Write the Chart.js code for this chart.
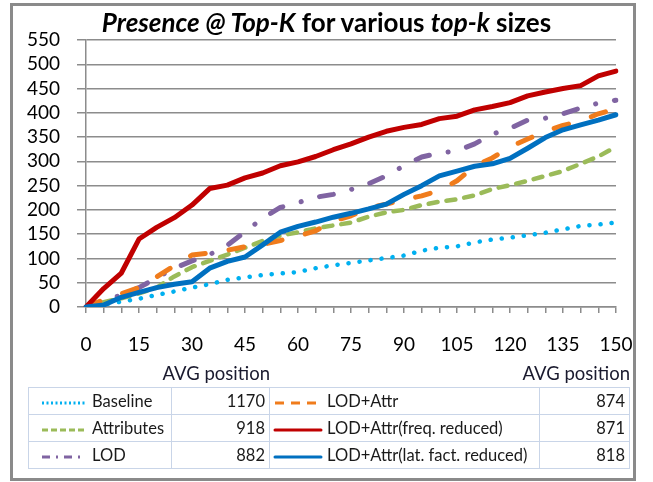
<!DOCTYPE html>
<html>
<head>
<meta charset="utf-8">
<script src="https://cdn.jsdelivr.net/npm/chart.js@4.4.1/dist/chart.umd.min.js"></script>
<style>
  html, body { margin: 0; padding: 0; background: #fff; }
  body { width: 653px; height: 482px; position: relative; overflow: hidden; font-family: Lato, "Noto Sans", sans-serif; color: #1a1a1a; }
  #frame { position: absolute; left: 10px; top: 3px; width: 626px; height: 478px; box-sizing: border-box; border: 3px solid #8a8a8a; }
  #chart { position: absolute; left: 0; top: 0; }
  #title { position: absolute; left: 0; width: 653px; top: 7px; text-align: center; font-weight: bold; font-size: 26px; line-height: 30px; color: #000; }
  .avg { position: absolute; top: 361px; font-size: 18.5px; line-height: 24px; color: #1a1a2e; text-align: right; }
  #legendTable { position: absolute; left: 28px; top: 387px; width: 601px; table-layout: fixed; border-collapse: collapse; font-size: 16.5px; }
  #legendTable td { border: 1.5px solid #c9d5e8; height: 26px; padding: 0; white-space: nowrap; overflow: hidden; }
  #legendTable td.val { text-align: right; padding-right: 4px; }
  #legendTable svg { vertical-align: middle; margin-right: 3px; }
</style>
</head>
<body>
<canvas id="chart" width="653" height="482"></canvas>
<div id="frame"></div>
<div id="title"><i>Presence @ Top-K</i> for various <i>top-k</i> sizes</div>
<div class="avg" style="left:110px;width:160px;">AVG position</div>
<div class="avg" style="left:470px;width:160px;">AVG position</div>
<table id="legendTable">
  <colgroup><col style="width:143px"><col style="width:98px"><col style="width:270px"><col style="width:90px"></colgroup>
  <tbody id="legendBody"></tbody>
</table>
<script>
// top-k sizes (x categories)
const topK = [0, 5, 10, 15, 20, 25, 30, 35, 40, 45, 50, 55, 60, 65, 70, 75, 80, 85, 90, 95, 100, 105, 110, 115, 120, 125, 130, 135, 140, 145, 150];
const xTickLabels = [0, 15, 30, 45, 60, 75, 90, 105, 120, 135, 150];

const baseline    = [0, 5, 11, 17, 25, 32, 40, 47, 56, 61, 66, 69, 72, 80, 86, 91, 96, 101, 106, 116, 122, 125, 133, 139, 143, 148, 153, 160, 167, 170, 174];
const attributes  = [0, 10, 18, 28, 40, 63, 82, 95, 108, 122, 136, 147, 154, 162, 168, 174, 186, 195, 200, 210, 217, 222, 230, 243, 251, 260, 270, 280, 295, 310, 330];
const lod         = [0, 12, 25, 40, 60, 80, 95, 108, 127, 155, 183, 205, 215, 226, 232, 242, 254, 270, 291, 309, 317, 322, 336, 356, 368, 385, 389, 398, 410, 420, 426];
const lodAttr     = [0, 15, 27, 40, 62, 85, 107, 111, 117, 124, 129, 137, 146, 157, 177, 188, 204, 212, 221, 229, 240, 260, 290, 307, 330, 346, 362, 374, 383, 398, 408];
const freqReduced = [0, 38, 70, 140, 164, 184, 210, 244, 251, 266, 276, 291, 299, 310, 324, 336, 350, 362, 370, 376, 388, 393, 406, 413, 421, 435, 443, 450, 456, 476, 486];
const latReduced  = [0, 4, 20, 30, 40, 47, 52, 80, 94, 103, 128, 154, 166, 175, 185, 193, 202, 212, 232, 250, 270, 280, 290, 295, 306, 327, 349, 365, 375, 385, 396];

const seriesNames = ['Baseline', 'Attributes', 'LOD', 'LOD+Attr', 'LOD+Attr(freq. reduced)', 'LOD+Attr(lat. fact. reduced)'];
const avgPosition = [1170, 918, 882, 874, 871, 818];

const styles = [
  { color: '#00b0f0', width: 4.5, dash: [0.1, 11], sample: '2 2.5' },
  { color: '#9bbb59', width: 4.5, dash: [9, 9], sample: '6 3' },
  { color: '#8064a2', width: 5, dash: [14, 19, 0.1, 19], sample: '8 6 2 6' },
  { color: '#f07c1c', width: 5, dash: [15, 24], sample: '9 7' },
  { color: '#c00000', width: 5, dash: [], sample: 'none' },
  { color: '#0070c0', width: 5, dash: [], sample: 'none' }
];
const allData = [baseline, attributes, lod, lodAttr, freqReduced, latReduced];

const gridGray = '#8c8c8c';
const tickFont = { family: 'Lato', size: 19 };

new Chart(document.getElementById('chart'), {
  type: 'line',
  data: {
    labels: topK,
    datasets: allData.map((d, i) => ({
      label: seriesNames[i],
      data: d,
      borderColor: styles[i].color,
      borderWidth: styles[i].width,
      borderDash: styles[i].dash,
      borderCapStyle: 'round',
      borderJoinStyle: 'round',
      pointRadius: 0,
      tension: 0,
      fill: false,
      order: 6 - i
    }))
  },
  options: {
    responsive: false,
    animation: false,
    layout: { padding: { left: 0, right: 37, top: 40, bottom: 0 } },
    plugins: { legend: { display: false }, tooltip: { enabled: false }, title: { display: false } },
    scales: {
      x: {
        type: 'category',
        offset: false,
        grid: { drawOnChartArea: false, drawTicks: true, tickLength: 6, color: gridGray, lineWidth: 1.5 },
        border: { color: gridGray, width: 1.5 },
        ticks: {
          autoSkip: false, maxRotation: 0, padding: 20, font: tickFont, color: '#000',
          callback: (v, i) => xTickLabels.includes(topK[i]) ? String(topK[i]) : ''
        },
        afterFit: s => { s.height = 175; }
      },
      y: {
        min: 0, max: 550,
        ticks: { stepSize: 50, autoSkip: false, padding: 17, font: tickFont, color: '#000' },
        grid: { color: gridGray, lineWidth: 1.5, tickLength: 9 },
        border: { color: gridGray, width: 1.5 },
        afterFit: s => { s.width = 86; }
      }
    }
  }
});

// legend table, two series per row
function sample(st, w) {
  return `<svg width="${w}" height="10"><line x1="3" y1="5" x2="${w - 3}" y2="5" stroke="${st.color}" stroke-width="3" stroke-linecap="${st.dash.length ? 'butt' : 'round'}" stroke-dasharray="${st.sample}"/></svg>`;
}
const body = document.getElementById('legendBody');
for (let r = 0; r < 3; r++) {
  const a = r, b = r + 3;
  const tr = document.createElement('tr');
  tr.innerHTML =
    `<td style="padding-left:10px">${sample(styles[a], 50)}${seriesNames[a]}</td>` +
    `<td class="val">${avgPosition[a]}</td>` +
    `<td style="padding-left:2px">${sample(styles[b], 52)}${seriesNames[b]}</td>` +
    `<td class="val">${avgPosition[b]}</td>`;
  body.appendChild(tr);
}
</script>
</body>
</html>
